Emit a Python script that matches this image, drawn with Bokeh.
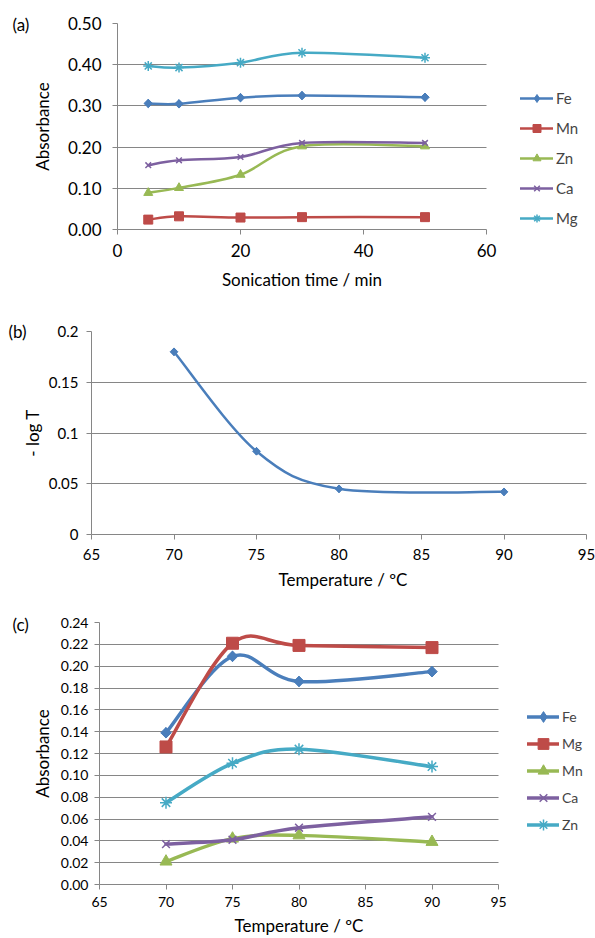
from bokeh.plotting import figure
from bokeh.models import (Range1d, FixedTicker, Legend, LegendItem, Title, PrintfTickFormatter,
                          Grid, LinearAxis)
from bokeh.embed import file_html
from bokeh.resources import INLINE
import math

FONT = "Lato"
GREY = "#868686"

# ---------------- data ----------------
# Panel (a)
a_time = [5, 10, 20, 30, 50]
a_names = ["Fe", "Mn", "Zn", "Ca", "Mg"]
a_fe = [0.306, 0.305, 0.320, 0.325, 0.321]
a_mn = [0.024, 0.032, 0.029, 0.030, 0.030]
a_zn = [0.089, 0.101, 0.133, 0.202, 0.202]
a_ca = [0.156, 0.168, 0.176, 0.210, 0.210]
a_mg = [0.397, 0.393, 0.405, 0.429, 0.417]
a_xticks = [0, 20, 40, 60]
a_yticks = [0.0, 0.1, 0.2, 0.3, 0.4, 0.5]

# Panel (b)
b_temp = [70, 75, 80, 90]
b_logT = [0.180, 0.082, 0.045, 0.042]
b_xticks = [65, 70, 75, 80, 85, 90, 95]
b_yticks = [0.0, 0.05, 0.1, 0.15, 0.2]
b_ylabels = ["0", "0.05", "0.1", "0.15", "0.2"]

# Panel (c)
c_temp = [70, 75, 80, 90]
c_names = ["Fe", "Mg", "Mn", "Ca", "Zn"]
c_fe = [0.139, 0.209, 0.186, 0.195]
c_mg = [0.126, 0.221, 0.219, 0.217]
c_mn = [0.021, 0.042, 0.045, 0.039]
c_ca = [0.037, 0.041, 0.052, 0.062]
c_zn = [0.075, 0.111, 0.124, 0.108]
c_xticks = [65, 70, 75, 80, 85, 90, 95]
c_yticks = [0.00, 0.02, 0.04, 0.06, 0.08, 0.10, 0.12, 0.14, 0.16, 0.18, 0.20, 0.22, 0.24]

COLORS = ["#4A7EBB", "#BE4B48", "#98B954", "#7D60A0", "#46AAC5"]
MARKERS = ["square", "square", "triangle", "x", "asterisk"]
ANGLES = [math.pi / 4, 0, 0, 0, 0]   # series 1 marker: a diamond (rotated square)
TITLE_SIZE = "17px"


def smooth_segments(xs, ys):
    """Bezier control points (Catmull-Rom style, like spreadsheet smoothed lines)."""
    n = len(xs)
    d = dict(x0=[], y0=[], x1=[], y1=[], cx0=[], cy0=[], cx1=[], cy1=[])
    for i in range(n - 1):
        im, ip = max(i - 1, 0), min(i + 2, n - 1)
        d["x0"].append(xs[i]); d["y0"].append(ys[i])
        d["x1"].append(xs[i + 1]); d["y1"].append(ys[i + 1])
        d["cx0"].append(xs[i] + (xs[i + 1] - xs[im]) / 6.0)
        d["cy0"].append(ys[i] + (ys[i + 1] - ys[im]) / 6.0)
        d["cx1"].append(xs[i + 1] - (xs[ip] - xs[i]) / 6.0)
        d["cy1"].append(ys[i + 1] - (ys[ip] - ys[i]) / 6.0)
    return d


def make_fig(height, left, top, bottom, axis_px, xr, yr, xticks, yticks, tick_size, ylab,
             x_std, y_std, y_lab_std):
    """Frame runs from `left` to the right edge (1px border); the x axis itself covers
    only `axis_px` pixels (the data range xr), leaving room for an in-frame legend."""
    right = 1
    frame_w = 595 - left - right
    x_end = xr[0] + (xr[1] - xr[0]) * frame_w / axis_px
    p = figure(width=595, height=height, x_range=Range1d(xr[0], x_end), y_range=Range1d(*yr),
               output_backend="svg", toolbar_location=None,
               min_border_left=left, min_border_right=right,
               min_border_top=top, min_border_bottom=bottom)
    p.outline_line_color = None
    p.xgrid.visible = False
    p.xaxis.bounds = xr
    p.xaxis.ticker = FixedTicker(ticks=xticks)
    p.yaxis.ticker = FixedTicker(ticks=yticks)
    g = p.ygrid[0]
    g.grid_line_color = GREY
    g.grid_line_width = 1
    if "cross_bounds" in Grid.properties():
        g.cross_bounds = xr
    else:
        g.visible = False
        p.segment(x0=[xr[0]] * len(yticks), x1=[xr[1]] * len(yticks), y0=yticks, y1=yticks,
                  line_color=GREY, line_width=1)
    for ax in (p.xaxis[0], p.yaxis[0]):
        ax.axis_line_color = GREY
        ax.major_tick_line_color = GREY
        ax.major_tick_out = 5
        ax.major_tick_in = 0
        ax.minor_tick_line_color = None
        ax.major_label_text_font = FONT
        ax.major_label_text_font_size = tick_size
        ax.major_label_text_color = "black"
        ax.axis_label_text_font = FONT
        ax.axis_label_text_font_size = TITLE_SIZE
        ax.axis_label_text_font_style = "normal"
        ax.axis_label_text_color = "black"
    p.yaxis.axis_label = ylab
    p.xaxis.major_label_standoff = x_std
    p.yaxis.major_label_standoff = y_std
    p.yaxis.axis_label_standoff = y_lab_std
    return p


def x_title(p, text, xr, standoff):
    """x-axis title centred under the axis span xr (the frame is wider, for the legend):
    drawn as the single tick label of a bare second bottom axis."""
    xc = (xr[0] + xr[1]) / 2.0
    ax = LinearAxis(ticker=FixedTicker(ticks=[xc]), major_label_overrides={xc: text},
                    axis_line_color=None, major_tick_line_color=None, minor_tick_line_color=None,
                    major_tick_out=0, major_tick_in=0, major_label_standoff=standoff,
                    major_label_text_font=FONT, major_label_text_font_size=TITLE_SIZE,
                    major_label_text_color="black")
    p.add_layout(ax, "below")


def add_series(p, xs, ys, idx, lw, msize):
    col = COLORS[idx]
    lr = p.bezier(source=smooth_segments(xs, ys), x0="x0", y0="y0", x1="x1", y1="y1",
                  cx0="cx0", cy0="cy0", cx1="cx1", cy1="cy1",
                  line_color=col, line_width=lw, line_cap="round", line_join="round")
    mk = MARKERS[idx]
    if ANGLES[idx] != 0:
        # diamond marker used for the legend swatch (legends draw markers unrotated);
        # it sits fully under the rotated square drawn next
        leg = p.scatter(xs, ys, marker="diamond", size=msize * 1.35, line_color=col,
                        fill_color=col)
    if mk in ("x", "asterisk"):
        sr = p.scatter(xs, ys, marker=mk, size=msize, line_color=col, line_width=1.5,
                       fill_color=None)
    else:
        sr = p.scatter(xs, ys, marker=mk, size=msize, angle=ANGLES[idx],
                       line_color=col, line_width=1, fill_color=col)
    if ANGLES[idx] != 0:
        sr = leg
    return lr, sr


def title_label(p, text, offset, standoff):
    p.add_layout(Title(text=text, align="left", offset=offset, standoff=standoff,
                       vertical_align="bottom", text_font=FONT, text_font_size="17px",
                       text_font_style="normal", text_color="black"), "above")


def axis_label_tag(p, text, yval, standoff):
    ax = LinearAxis(ticker=FixedTicker(ticks=[yval]), major_label_overrides={yval: text},
                    axis_line_color=None, major_tick_line_color=None, minor_tick_line_color=None,
                    major_tick_out=0, major_tick_in=0, major_label_standoff=standoff,
                    major_label_text_font=FONT, major_label_text_font_size="17px",
                    major_label_text_color="black")
    p.add_layout(ax, "left")


# ---------------- panel (a) ----------------
a_xr = (0, 60)
pa = make_fig(298, 117, 23, 69, 369, a_xr, (0, 0.5), a_xticks, a_yticks, "17px",
              "Absorbance", 9, 11, 12)
pa.yaxis.formatter = PrintfTickFormatter(format="%.2f")
x_title(pa, "Sonication time / min", a_xr, 9)
items = []
a_series = [a_fe, a_mn, a_zn, a_ca, a_mg]
a_msizes = [6, 9, 9, 8, 10]
for i, (name, ys) in enumerate(zip(a_names, a_series)):
    lr, sr = add_series(pa, a_time, ys, i, 2.5, a_msizes[i])
    items.append(LegendItem(label=name, renderers=[lr, sr]))
pa.add_layout(Legend(items=items, location=(403, 1), border_line_color=None,
                     background_fill_alpha=0, padding=0, margin=0, spacing=10,
                     glyph_width=33, glyph_height=20, label_height=20, label_standoff=3,
                     label_text_font=FONT, label_text_font_size="15px"))
title_label(pa, "(a)", -105, -23)

# ---------------- panel (b) ----------------
pb = make_fig(298, 91, 33, 62, 495, (65, 95), (0, 0.2), b_xticks, b_yticks, "15px",
              "- log T", 9, 8, 3)
pb.xaxis.axis_label = "Temperature / ºC"
pb.xaxis.axis_label_standoff = 6
pb.yaxis.major_label_overrides = dict(zip(b_yticks, b_ylabels))
add_series(pb, b_temp, b_logT, 0, 2.5, 5.5)
axis_label_tag(pb, "(b)", 0.2, -8)

# ---------------- panel (c) ----------------
c_xr = (65, 95)
pc = make_fig(342, 99, 26, 54, 399, c_xr, (0, 0.24), c_xticks, c_yticks, "14px",
              "Absorbance", 7, 6, 5)
pc.yaxis.formatter = PrintfTickFormatter(format="%.2f")
x_title(pc, "Temperature / ºC", c_xr, 5)
items = []
c_series = [c_fe, c_mg, c_mn, c_ca, c_zn]
c_msizes = [7.5, 12, 12, 11, 12]
for i, (name, ys) in enumerate(zip(c_names, c_series)):
    lr, sr = add_series(pc, c_temp, ys, i, 3.5, c_msizes[i])
    items.append(LegendItem(label=name, renderers=[lr, sr]))
pc.add_layout(Legend(items=items, location=(428, 46), border_line_color=None,
                     background_fill_alpha=0, padding=0, margin=0, spacing=0,
                     glyph_width=32, glyph_height=27, label_height=27, label_standoff=3,
                     label_text_font=FONT, label_text_font_size="14px"))
title_label(pc, "(c)", -87, -24)

open("out.html", "w").write(file_html([pa, pb, pc], INLINE))
